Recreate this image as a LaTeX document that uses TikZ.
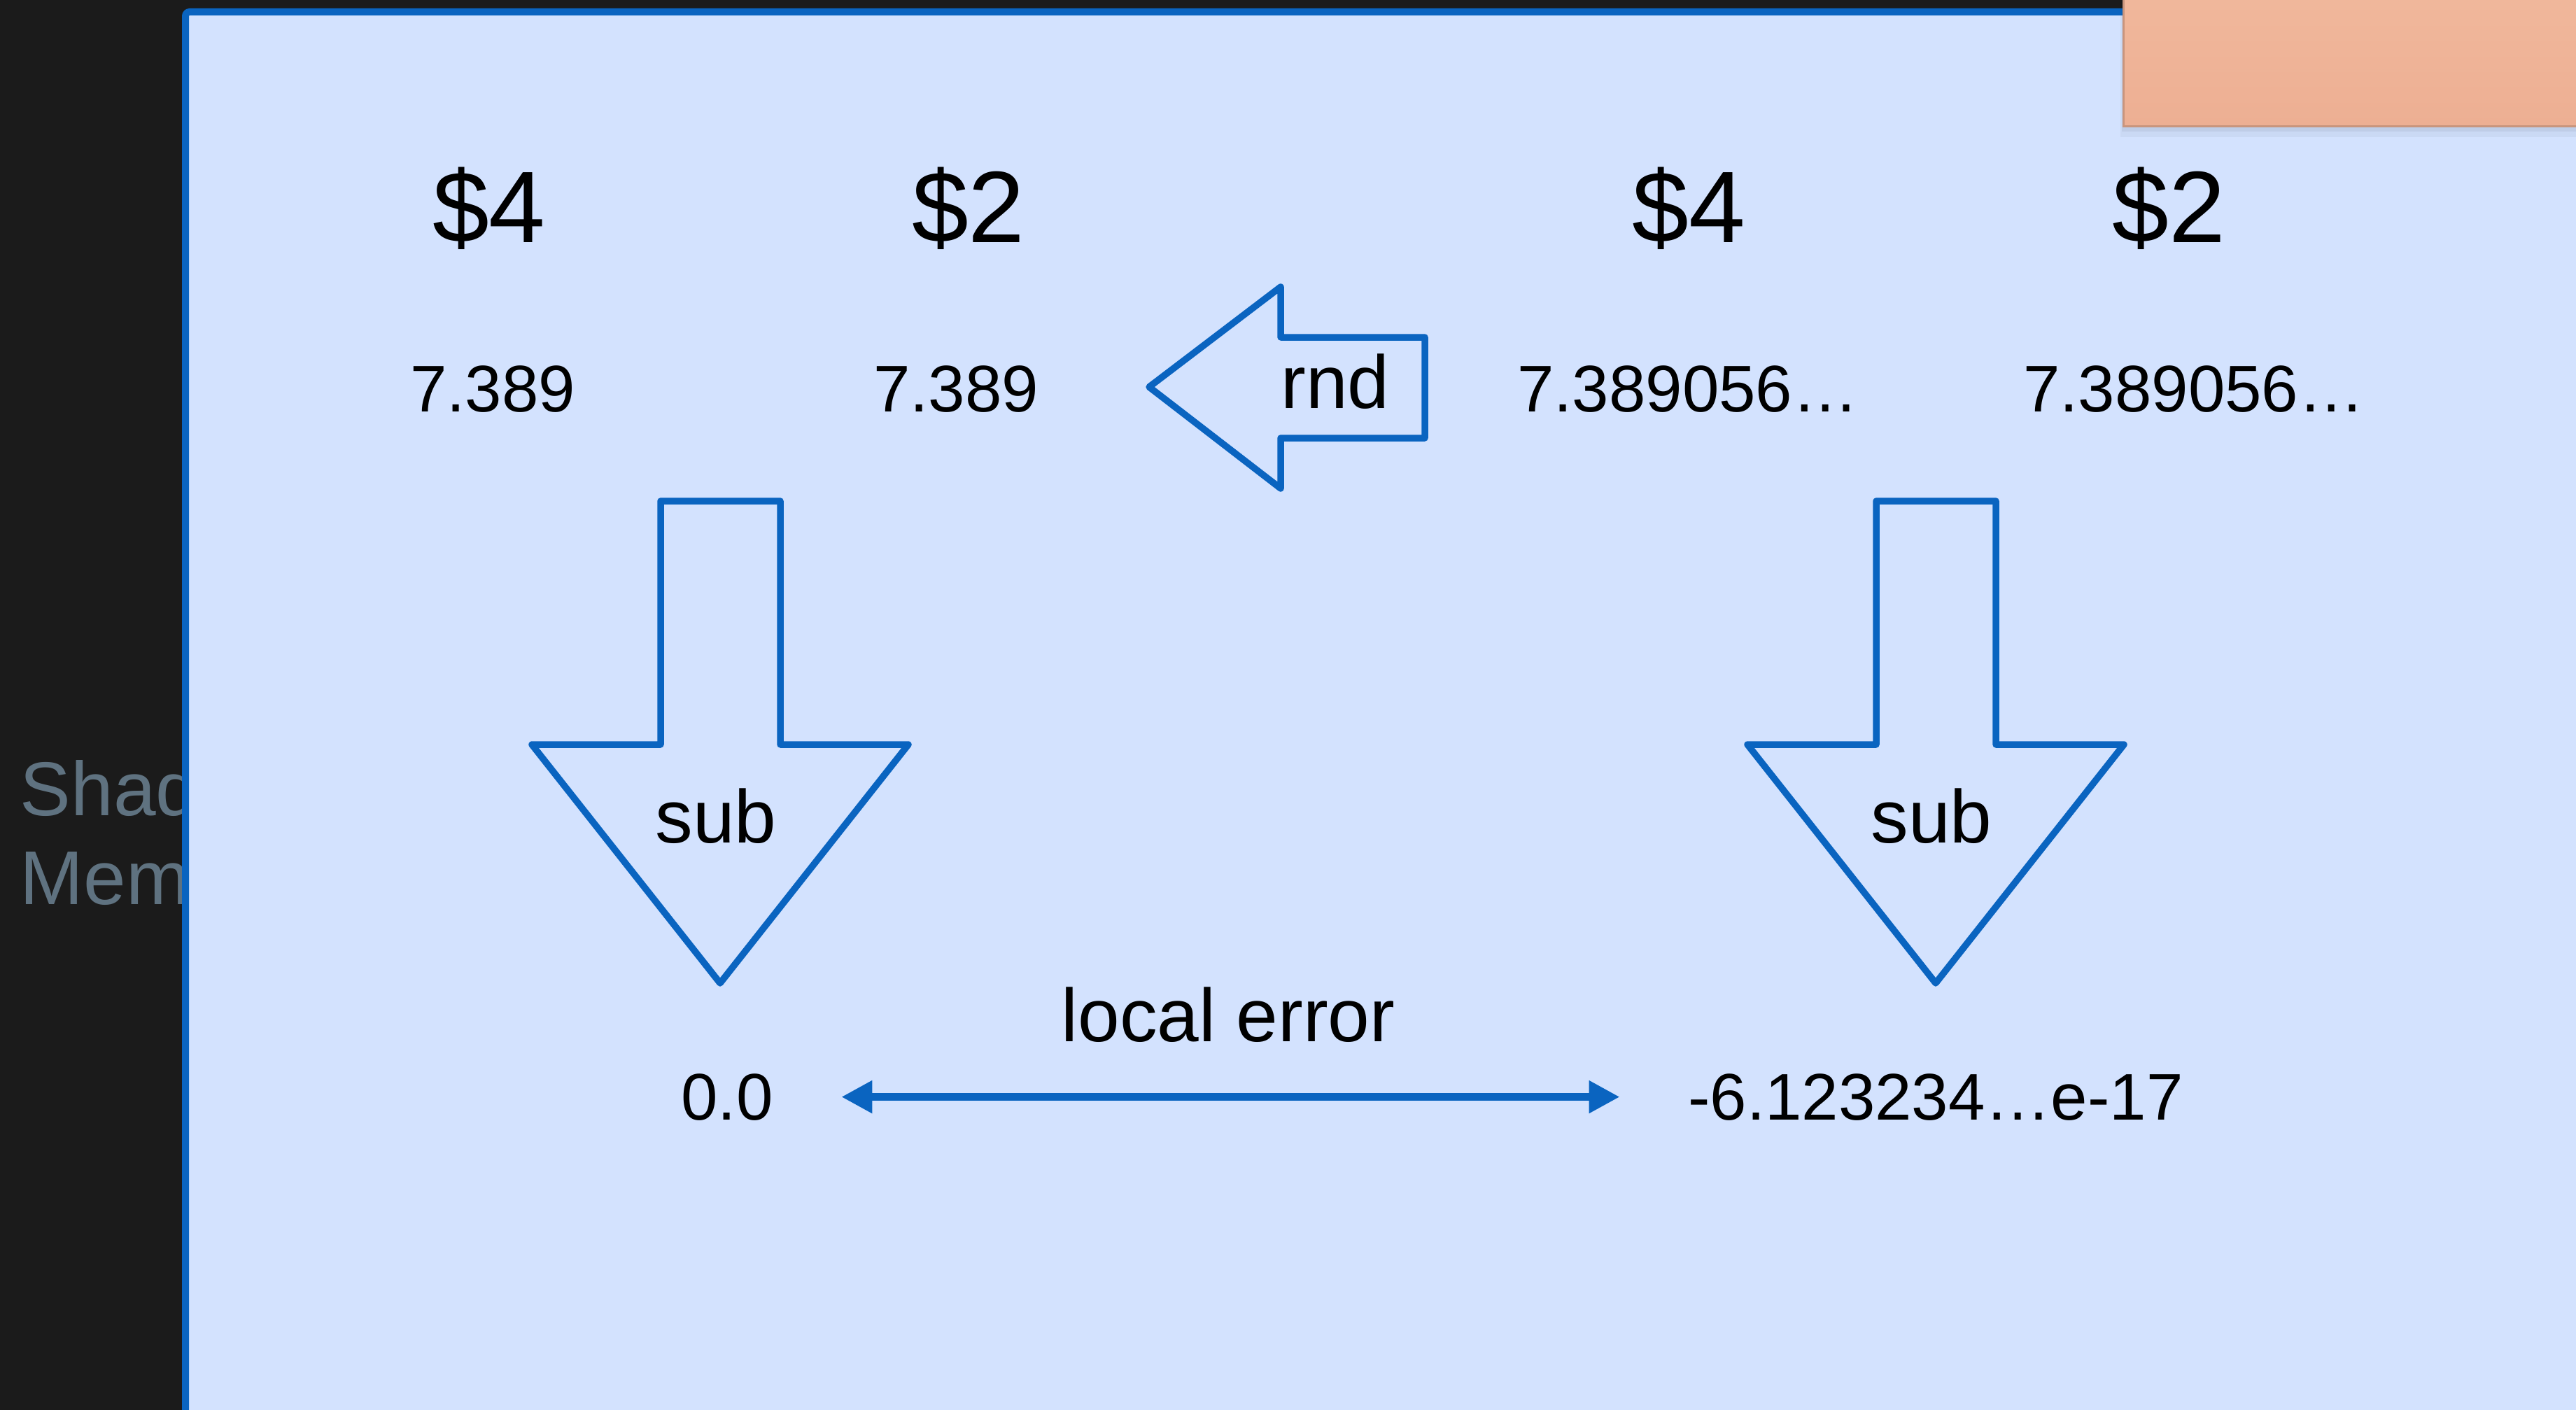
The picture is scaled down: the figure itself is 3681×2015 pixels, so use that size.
\documentclass[tikz,border=0pt]{standalone}
\usepackage{fontspec}
\setmainfont{Liberation Sans}
\usetikzlibrary{arrows.meta}

\definecolor{darkbg}{HTML}{1B1B1B}
\definecolor{panelfill}{HTML}{D3E2FE}
\definecolor{strokeblue}{HTML}{0A64C0}
\definecolor{fadedgray}{HTML}{5F7280}
\definecolor{notetop}{HTML}{F1B99D}
\definecolor{notebottom}{HTML}{EDAF93}

\begin{document}
\begin{tikzpicture}[
        x=0.01cm, y=-0.01cm,
        regstyle/.style={anchor=base, inner sep=0pt, font=\fontsize{41.3pt}{50pt}\selectfont},
        valstyle/.style={anchor=base, inner sep=0pt, font=\fontsize{26.8pt}{32pt}\selectfont},
        opstyle/.style={anchor=base, inner sep=0pt, font=\fontsize{30.5pt}{36pt}\selectfont},
        sidestyle/.style={anchor=base west, inner sep=0pt, text=fadedgray, font=\fontsize{31pt}{38pt}\selectfont},
        blockstyle/.style={draw=strokeblue, line width=0.95mm, line join=round},
        linestyle/.style={
            <->,
            >={Triangle[length=4.4mm, width=4.4mm]},
            draw=strokeblue,
            line width=1.1mm,
            shorten <=9.7mm,
            shorten >=9.7mm,}
        ]

        \useasboundingbox (0,0) rectangle (3681,2015);
        \clip (0,0) rectangle (3681,2015);
        \fill[darkbg] (0,0) rectangle (3681,2015);

        % sidebar label, partly hidden by the panel
        \node[sidestyle] (shad) at (28,1165) {Shad};
        \node[sidestyle] (mem) at (28,1292) {Mem};

        \draw[draw=strokeblue, fill=panelfill, line width=1mm, rounded corners=0.6mm] (265,17) rectangle (3800,2100);

        % note in the corner
        \fill[black, opacity=0.04] (3030,-40) rectangle (3760,196);
        \fill[black, opacity=0.05] (3032,-40) rectangle (3760,188);
        \shade[top color=notetop, bottom color=notebottom] (3034,-40) rectangle (3760,180);
        \draw[notebottom!85!black, line width=0.3mm] (3034,-40) -- (3034,180) -- (3760,180);

        \node[regstyle] (regA) at (699,346) {\$4};
        \node[regstyle] (regB) at (1384,346) {\$2};
        \node[regstyle] (regC) at (2413,346) {\$4};
        \node[regstyle] (regD) at (3099,346) {\$2};

        \node[valstyle] (valA) at (704,588) {7.389};
        \node[valstyle] (valB) at (1366,588) {7.389};
        \node[valstyle] (valC) at (2412,588) {7.389056…};
        \node[valstyle] (valD) at (3135,588) {7.389056…};

        % rounding
        \draw[blockstyle] (1642,553) -- (1830,410) -- (1830,482) -- (2036,482) -- (2036,626) -- (1830,626) -- (1830,698) -- cycle;
        \node[opstyle] (rnd) at (1908,583) {rnd};

        % subtraction, both sides
        \draw[blockstyle] (944,716) -- (1115,716) -- (1115,1064) -- (1298,1064) -- (1029,1405) -- (760,1064) -- (944,1064) -- cycle;
        \node[opstyle] (subA) at (1023,1204) {sub};

        \draw[blockstyle] (2681,716) -- (2852,716) -- (2852,1064) -- (3035,1064) -- (2766,1405) -- (2497,1064) -- (2681,1064) -- cycle;
        \node[opstyle] (subB) at (2760,1204) {sub};

        \node[valstyle] (zero) at (1039,1600) {0.0};
        \node[valstyle] (err) at (2766,1600) {-6.123234…e-17};
        \node[opstyle] (errlabel) at (1755,1488) {local error};

        \draw[linestyle] (zero.east) -- (zero.east -| err.west);

    \end{tikzpicture}
\end{document}
